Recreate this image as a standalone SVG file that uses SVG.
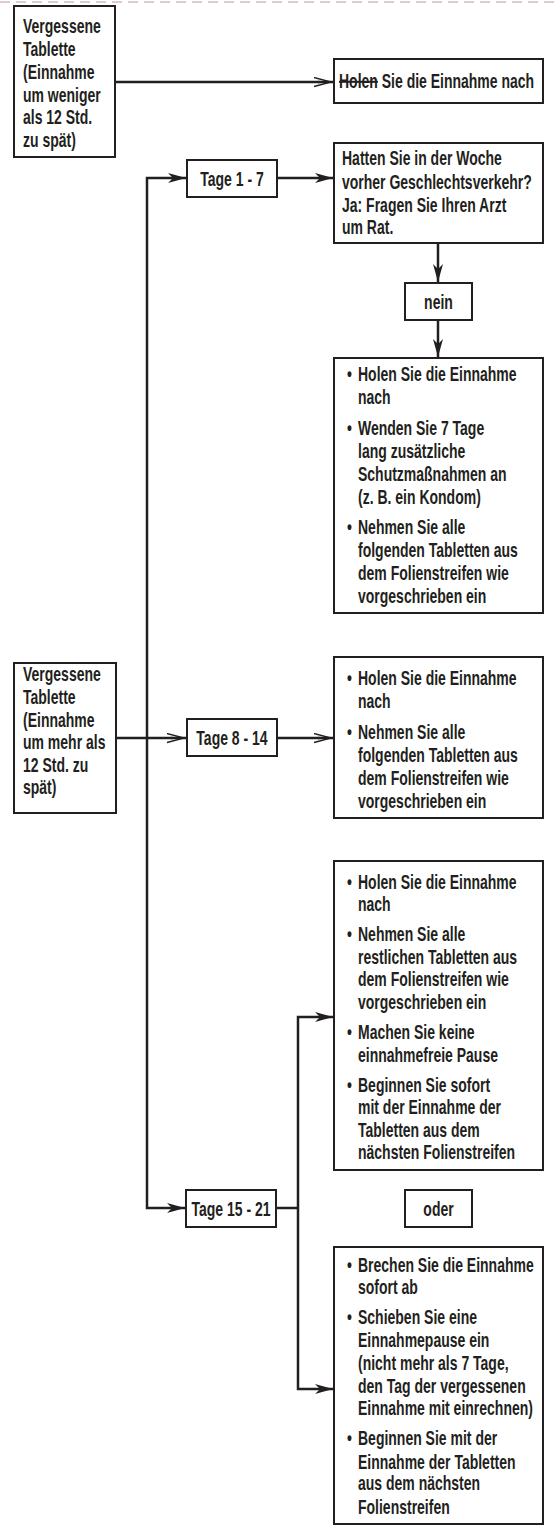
<svg xmlns="http://www.w3.org/2000/svg" width="559" height="1526" viewBox="0 0 559 1526">
<style>
.t{font-family:"Liberation Sans",Arial,sans-serif;font-weight:bold;font-size:20px;fill:#231f20}
.c{text-anchor:middle}
.box{fill:#fff;stroke:#231f20;stroke-width:2}
.ln{stroke:#231f20;stroke-width:2.5;fill:none}
</style>
<defs>
<marker id="ah" markerUnits="userSpaceOnUse" markerWidth="20" markerHeight="12" refX="18" refY="5" orient="auto-start-reverse">
<path d="M0,0 L18,5 L0,10 L5,5 z" fill="#231f20"/>
</marker>
<marker id="ao" markerUnits="userSpaceOnUse" markerWidth="24" markerHeight="12" refX="22" refY="5" orient="auto">
<path d="M2,0.5 L19,5 L2,9.5" fill="none" stroke="#231f20" stroke-width="1.4"/>
<path d="M6,3.8 L19,5 L6,6.2 z" fill="#231f20"/>
</marker>
</defs>
<rect width="559" height="1526" fill="#fff"/>
<line x1="0" y1="2" x2="559" y2="2" stroke="#d6b8ca" stroke-width="1.5" stroke-dasharray="10 6"/>

<g id="connectors">
<line class="ln" x1="115" y1="82" x2="334" y2="82" marker-end="url(#ao)"/>
<path class="ln" d="M186,178 H147 V1208 H185" marker-start="url(#ah)" marker-end="url(#ah)"/>
<line class="ln" x1="277" y1="178" x2="333" y2="178" marker-end="url(#ah)"/>
<line class="ln" x1="438" y1="243" x2="438" y2="282" marker-end="url(#ah)"/>
<line class="ln" x1="438" y1="320" x2="438" y2="357" marker-end="url(#ah)"/>
<line class="ln" x1="116" y1="738" x2="187" y2="738" marker-end="url(#ao)"/>
<line class="ln" x1="277" y1="738" x2="334" y2="738" marker-end="url(#ao)"/>
<line class="ln" x1="276" y1="1208" x2="298" y2="1208"/>
<path class="ln" d="M333,1017 H298 V1389 H333" marker-start="url(#ah)" marker-end="url(#ah)"/>
</g>

<g id="n-weniger">
<rect class="box" x="14" y="6" width="101" height="151"/>
<text class="t" transform="translate(23 0) scale(0.7 1)">
<tspan x="0" y="33">Vergessene</tspan>
<tspan x="0" y="56">Tablette</tspan>
<tspan x="0" y="79">(Einnahme</tspan>
<tspan x="0" y="102">um weniger</tspan>
<tspan x="0" y="124">als 12 Std.</tspan>
<tspan x="0" y="147">zu spät)</tspan>
</text>
</g>

<g id="n-holen">
<rect class="box" x="334" y="59" width="209" height="44"/>
<text class="t" transform="translate(339 0) scale(0.7 1)" y="88"><tspan style="text-decoration:line-through">Holen</tspan> Sie die Einnahme nach</text>
</g>

<g id="n-tage1">
<rect class="box" x="187" y="160" width="90" height="37"/>
<text class="t c" transform="translate(232 0) scale(0.7 1)" x="0" y="186">Tage 1 - 7</text>
</g>

<g id="n-hatten">
<rect class="box" x="334" y="143" width="209" height="100"/>
<text class="t" transform="translate(342 0) scale(0.7 1)">
<tspan x="0" y="165">Hatten Sie in der Woche</tspan>
<tspan x="0" y="189">vorher Geschlechtsverkehr?</tspan>
<tspan x="0" y="212">Ja: Fragen Sie Ihren Arzt</tspan>
<tspan x="0" y="234">um Rat.</tspan>
</text>
</g>

<g id="n-nein">
<rect class="box" x="405" y="283" width="67" height="37"/>
<text class="t c" transform="translate(438.5 0) scale(0.7 1)" x="0" y="309">nein</text>
</g>

<g id="n-tage1-result">
<rect class="box" x="334" y="358" width="209" height="255"/>
<text class="t" transform="translate(358 0) scale(0.7 1)">
<tspan x="-15.7" y="381">•</tspan><tspan x="0" y="381">Holen Sie die Einnahme</tspan>
<tspan x="0" y="404">nach</tspan>
<tspan x="-15.7" y="435">•</tspan><tspan x="0" y="435">Wenden Sie 7 Tage</tspan>
<tspan x="0" y="458">lang zusätzliche</tspan>
<tspan x="0" y="481">Schutzmaßnahmen an</tspan>
<tspan x="0" y="504">(z. B. ein Kondom)</tspan>
<tspan x="-15.7" y="534">•</tspan><tspan x="0" y="534">Nehmen Sie alle</tspan>
<tspan x="0" y="557">folgenden Tabletten aus</tspan>
<tspan x="0" y="580">dem Folienstreifen wie</tspan>
<tspan x="0" y="603">vorgeschrieben ein</tspan>
</text>
</g>

<g id="n-mehr">
<rect class="box" x="14" y="663" width="102" height="150"/>
<text class="t" transform="translate(23 0) scale(0.7 1)">
<tspan x="0" y="681">Vergessene</tspan>
<tspan x="0" y="704">Tablette</tspan>
<tspan x="0" y="727">(Einnahme</tspan>
<tspan x="0" y="749">um mehr als</tspan>
<tspan x="0" y="772">12 Std. zu</tspan>
<tspan x="0" y="794">spät)</tspan>
</text>
</g>

<g id="n-tage8">
<rect class="box" x="187" y="719" width="90" height="37"/>
<text class="t c" transform="translate(232 0) scale(0.7 1)" x="0" y="745">Tage 8 - 14</text>
</g>

<g id="n-tage8-result">
<rect class="box" x="334" y="657" width="209" height="161"/>
<text class="t" transform="translate(358 0) scale(0.7 1)">
<tspan x="-15.7" y="685">•</tspan><tspan x="0" y="685">Holen Sie die Einnahme</tspan>
<tspan x="0" y="708">nach</tspan>
<tspan x="-15.7" y="739">•</tspan><tspan x="0" y="739">Nehmen Sie alle</tspan>
<tspan x="0" y="762">folgenden Tabletten aus</tspan>
<tspan x="0" y="785">dem Folienstreifen wie</tspan>
<tspan x="0" y="808">vorgeschrieben ein</tspan>
</text>
</g>

<g id="n-tage15-a">
<rect class="box" x="334" y="861" width="209" height="309"/>
<text class="t" transform="translate(358 0) scale(0.7 1)">
<tspan x="-15.7" y="889">•</tspan><tspan x="0" y="889">Holen Sie die Einnahme</tspan>
<tspan x="0" y="911">nach</tspan>
<tspan x="-15.7" y="941">•</tspan><tspan x="0" y="941">Nehmen Sie alle</tspan>
<tspan x="0" y="964">restlichen Tabletten aus</tspan>
<tspan x="0" y="986">dem Folienstreifen wie</tspan>
<tspan x="0" y="1009">vorgeschrieben ein</tspan>
<tspan x="-15.7" y="1039">•</tspan><tspan x="0" y="1039">Machen Sie keine</tspan>
<tspan x="0" y="1062">einnahmefreie Pause</tspan>
<tspan x="-15.7" y="1092">•</tspan><tspan x="0" y="1092">Beginnen Sie sofort</tspan>
<tspan x="0" y="1114">mit der Einnahme der</tspan>
<tspan x="0" y="1137">Tabletten aus dem</tspan>
<tspan x="0" y="1159">nächsten Folienstreifen</tspan>
</text>
</g>

<g id="n-tage15">
<rect class="box" x="186" y="1190" width="90" height="37"/>
<text class="t c" transform="translate(231 0) scale(0.7 1)" x="0" y="1216">Tage 15 - 21</text>
</g>

<g id="n-oder">
<rect class="box" x="405" y="1190" width="67" height="37"/>
<text class="t c" transform="translate(438.5 0) scale(0.7 1)" x="0" y="1216">oder</text>
</g>

<g id="n-tage15-b">
<rect class="box" x="334" y="1247" width="209" height="277"/>
<text class="t" transform="translate(358 0) scale(0.7 1)">
<tspan x="-15.7" y="1272">•</tspan><tspan x="0" y="1272">Brechen Sie die Einnahme</tspan>
<tspan x="0" y="1294">sofort ab</tspan>
<tspan x="-15.7" y="1324">•</tspan><tspan x="0" y="1324">Schieben Sie eine</tspan>
<tspan x="0" y="1347">Einnahmepause ein</tspan>
<tspan x="0" y="1370">(nicht mehr als 7 Tage,</tspan>
<tspan x="0" y="1393">den Tag der vergessenen</tspan>
<tspan x="0" y="1415">Einnahme mit einrechnen)</tspan>
<tspan x="-15.7" y="1445">•</tspan><tspan x="0" y="1445">Beginnen Sie mit der</tspan>
<tspan x="0" y="1469">Einnahme der Tabletten</tspan>
<tspan x="0" y="1490">aus dem nächsten</tspan>
<tspan x="0" y="1514">Folienstreifen</tspan>
</text>
</g>
</svg>
